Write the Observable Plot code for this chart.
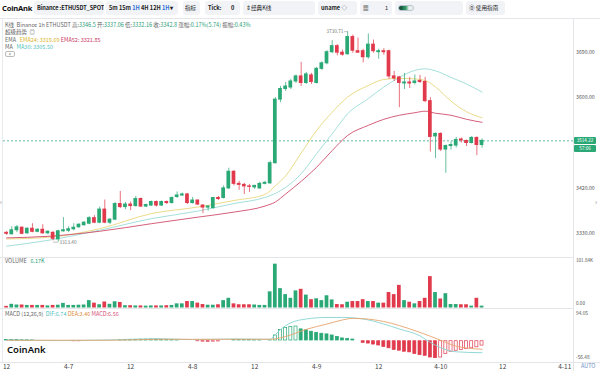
<!DOCTYPE html>
<html><head><meta charset="utf-8">
<script src="https://cdn.jsdelivr.net/npm/d3@7"></script>
<script src="https://cdn.jsdelivr.net/npm/@observablehq/plot@0.6"></script>
<style>
*{box-sizing:border-box}
body{margin:0;width:600px;height:371px;overflow:hidden;background:#fff;position:relative;font-family:"Noto Sans CJK SC","Noto Sans",sans-serif;color:#222}
.abs{position:absolute}
#tb{left:0;top:0;width:600px;height:19px;border-bottom:1px solid #e4e6ea}
.logo{left:2px;top:3px;font-family:"Noto Sans",sans-serif;font-weight:700;font-size:7.6px;letter-spacing:-0.2px;color:#111;line-height:10px}
.box{top:1px;height:14px;background:#f1f3f7;border-radius:3px;font-size:5.6px;line-height:14px;padding:0 3px;white-space:nowrap;color:#222;overflow:hidden}
.blue{color:#2f6fd6}
.lg{left:5px;font-size:5.5px;line-height:6px;color:#666;white-space:nowrap}
.v{color:#2a9d78}
.panel{left:0;width:600px}
.pbox{left:574px;width:22px;height:7px;background:#2aa876;color:#fff;font-size:4.6px;line-height:7px;text-align:center;border-radius:1px}
</style></head><body>
<div id="tb" class="abs">
  <div class="abs logo">CoinAnk</div>
  <div class="abs box" style="left:34px;width:70px;font-weight:600;letter-spacing:-0.1px">Binance :ETHUSDT_SPOT</div>
  <div class="abs box" style="left:106px;width:72px;font-weight:600">5m 15m <span class="blue">1H</span> 4H 12H <span class="blue">1H</span>▾</div>
  <div class="abs box" style="left:183px;width:17px;padding:0 2px">指标</div>
  <div class="abs box" style="left:205px;width:35px;font-weight:600">Tick:<span style="position:absolute;left:26px">0</span></div>
  <div class="abs box" style="left:243px;width:72px">⇕经典K线</div>
  <div class="abs box" style="left:318px;width:39px;font-weight:600">uname <span style="color:#666">◇</span></div>
  <div class="abs box" style="left:360px;width:32px">▦<span style="position:absolute;left:25px">1</span></div>
  <div class="abs box" style="left:395px;width:68px"><span class="abs" style="left:3px;top:4px;width:16px;height:6px;border-radius:3px;border:1px solid #b9c4cc;background:linear-gradient(90deg,#0b3d2e,#3aa06b 50%,#e9f0ee 70%)"></span></div>
  <div class="abs box" style="left:466px;width:39px">⓪ 使用指南</div>
</div>
<div id="p1" class="abs panel" style="top:19px;height:238px"></div>
<div id="p2" class="abs panel" style="top:257px;height:51px"></div>
<div id="p3" class="abs panel" style="top:308px;height:63px"></div>
<div class="abs" style="left:0;top:257px;width:573px;height:1px;background:#e3e5e9"></div>
<div class="abs" style="left:0;top:308px;width:573px;height:1px;background:#e3e5e9"></div>
<div class="abs" style="left:0;top:362px;width:600px;height:1px;background:#e3e5e9"></div>
<div class="abs" style="left:573px;top:19px;width:1px;height:352px;background:#e3e5e9"></div>
<div class="abs" style="left:2px;top:19px;width:1px;height:343px;background:#e8eaee"></div>
<div class="abs" style="left:0;top:197px;font-size:7px;color:#888;line-height:8px">‹</div>
<div class="abs" style="left:595px;top:197px;font-size:7px;color:#888;line-height:8px">›</div>

<div class="abs lg" style="top:22px">K线&nbsp; Binance 1h ETHUSDT 高:<span class="v">3346.5</span> 开:<span class="v">3337.06</span> 低:<span class="v">3332.16</span> 收:<span class="v">3342.8</span> 涨幅:<span class="v">0.17%(5.74)</span> 振幅:<span class="v">0.43%</span></div>
<div class="abs lg" style="top:29.3px">超级趋势 &nbsp;◎</div>
<div class="abs lg" style="top:36.7px">EMA &nbsp; <span style="color:#d9b52a">EMA24: 3319.69</span> <span style="color:#c8385f">EMA52: 3321.85</span></div>
<div class="abs lg" style="top:44px">MA &nbsp; <span style="color:#4fc1c0">MA30: 3305.50</span></div>
<div class="abs" style="left:5px;top:51px;width:10px;height:6px;border:1px solid #bbb;border-radius:2px;font-size:5px;line-height:5px;text-align:center;color:#666">^</div>
<div class="abs lg" style="top:257.5px">VOLUME &nbsp; <span class="v">6.17K</span></div>
<div class="abs lg" style="top:311px">MACD (12,26,9) &nbsp;<span style="color:#4fc1c0">DIF:6.74</span> <span style="color:#e08a3c">DEA:3.46</span> <span style="color:#d8507a">MACD:6.56</span></div>
<div class="abs" style="left:7px;top:343px;font-family:'Noto Sans',sans-serif;font-weight:600;font-size:9.5px;color:#111">CoinAnk</div>
<div class="abs" style="left:581px;top:363px;font-size:5.5px;color:#6f8fc8;line-height:7px">AUTO</div>
<div id="boxes"></div>
<script>
// ---------- data ----------
const startTime = "2024-04-06T12:00:00Z"; // first 1H candle
const open = [3332,3329,3337.06,3342,3331,3340,3334,3338,3331,3332, 3319,3335,3336,3339,3343,3347,3350,3361,3352,3378, 3352,3358,3389,3383,3388,3385,3399,3384,3386,3393, 3386,3393,3391,3403,3406,3408,3391,3396,3386,3382, 3381,3401,3401,3420,3453,3429,3427,3424,3422,3420, 3429,3430,3470,3596,3617,3620,3632,3642,3629,3644, 3629,3657,3668,3690,3702,3689,3686,3720,3692,3692, 3680,3705,3690,3692,3692,3642,3640,3628,3630,3629, 3633,3631,3593,3523,3528,3497,3504,3505,3517,3514, 3510,3520,3506];
const high = [3334,3344,3346.5,3344,3342,3350,3340,3348,3336,3334, 3337,3362,3344,3350,3350,3354,3364,3366,3383,3397, 3360,3392,3414,3392,3393,3404,3401,3389,3395,3395, 3395,3395,3403,3413,3411,3410,3402,3397,3388,3386, 3402,3404,3425,3460,3455,3434,3430,3428,3426,3432, 3434,3474,3600,3622,3630,3636,3645,3670,3650,3648, 3660,3671,3693,3713,3705,3694,3730.71,3724,3718,3696, 3726,3714,3696,3697,3694,3652,3642,3648,3640,3645, 3644,3640,3600,3530,3530,3506,3512,3521,3520,3516, 3523,3522,3518];
const low = [3327,3328,3332.16,3328,3329,3332,3332,3329,3328,3316, 3313.4,3333,3332,3336,3341,3345,3348,3350,3350,3350, 3348,3356,3380,3378,3376,3383,3382,3382,3384,3383, 3384,3388,3389,3400,3404,3388,3389,3386,3370,3375, 3379,3396,3399,3418,3425,3416,3408,3412,3418,3418, 3427,3428,3468,3590,3612,3616,3628,3622,3626,3626, 3627,3654,3665,3687,3683,3682,3684,3688,3688,3669, 3676,3688,3676,3684,3636,3632,3580,3616,3618,3625, 3628,3590,3492,3479,3493,3450,3496,3500,3510,3503, 3508,3485,3500];
const close = [3330,3337,3342.8,3330,3340,3334,3338,3331,3334,3320, 3335,3337,3339,3342,3348,3352,3361,3352,3378,3352, 3358,3389,3383,3388,3385,3399,3384,3387,3393,3386, 3393,3391,3401,3406,3408,3391,3396,3388,3382,3384, 3401,3399,3420,3453,3429,3427,3424,3423,3425,3429, 3431,3470,3596,3617,3622,3632,3642,3629,3646,3631, 3657,3668,3690,3702,3689,3685,3720,3693,3689,3680, 3705,3692,3692,3690,3642,3638,3629,3630,3628,3632, 3631,3593,3522,3528,3497,3504,3506,3516,3515,3510, 3520,3506,3514.22];
const volumeK = [3.5,8,6.5,6.5,5.6,5.6,5.6,5.6,4.5,5.6, 6,10,5.6,5.6,6,6.5,16,10.5,7,13, 8,13.5,12,5,5,4.5,4.5,4,4.5,4.5, 4.5,5,5.5,9,9,14,14,10.5,7.5,6, 6,7,16,21,9,7,7,7,6.5,5.6, 5.6,35,95,42,29,21,37,40.5,28,18, 20,16,26.5,17.5,7.5,7,12.5,14,14,18, 14,14,10.5,10.5,33.5,29,49,16,12.5,9, 14,21,68,33.5,19.5,31,7.5,7.5,7,7, 4,21,4];
// indicator lines read at sampled candle indices: [index, value]
const ema24 = [[0,3319.7],[8,3323],[18,3340],[28,3370],[37,3383],[44,3396],[50,3408],[52,3425],[54,3445],[57,3490],[60,3535],[63,3571],[66,3601],[70,3624],[73,3636],[76,3638],[79,3637],[81,3634],[83,3621],[86,3593],[89,3572],[92,3560]];
const ma30 = [[0,3305.5],[8,3317],[18,3337],[28,3360],[37,3375],[44,3390],[50,3402],[52,3410],[54,3422],[57,3449],[60,3489],[63,3528],[66,3568],[70,3598],[73,3621],[76,3640],[79,3654],[81,3657],[83,3653],[86,3640],[89,3627],[92,3611]];
const ema52 = [[0,3321.9],[8,3325],[18,3335],[28,3350],[37,3363],[44,3373],[50,3385],[52,3393],[54,3409],[57,3434],[60,3462],[63,3495],[66,3525],[70,3545],[73,3557],[76,3565],[79,3570],[81,3573],[83,3569],[86,3565],[89,3557],[92,3551]];
const macdHist = [4,4,3.5,3,3,2.5,2,1.5,1,0.5, -1,-1.5,-2,-2.5,-2.5,-2,-2,-1.5,-1,-0.5, 1,2,3,3.5,4,4.5,5,5,5.5,5,4.5,4,3.5,3,2, -0.5,-1.5,-2.5,-3.5,-4,-3.5,-3,-1,2, 3.5,4,4.2,3.5,3,2.5,2,2.5,
 18.5,36,42.5,46,47,38,35,30.5,27,24,22,18.5,14,9,7.5,5.5,-1,-7.6,-9.8,-13,-16,-20.7,-25,-30.5,-32.7,-36,-38,-43.6,-47,-49,-54.5,-56.5,-54.5,-43.6,-36,-32.7,-30.5,-27,-25,-21.8,-16.4];
const dif = [[0,3],[10,1],[20,3],[29,7],[36,4],[44,6],[51,5],[52,20],[53,36],[55,58],[58,70],[62,75],[65,75],[69,70],[73,54],[76,38],[80,16],[82,-5],[84,-22],[87,-35],[92,-38]];
const dea = [[0,2],[10,2],[20,2],[29,5],[36,5],[44,5],[51,5],[54,14],[58,37],[62,54],[65,67],[67,72],[69,71],[73,62],[76,49],[80,27],[84,2],[87,-17],[92,-27]];
const priceTicks = [3330,3420,3600,3690];
const volumeMax = 101.84;
const volumeTickLabels = ["0.00","101.84K"];
const macdMin = -56.48, macdMax = 94.05;
const xTickLabels = ["12","4-7","12","4-8","12","4-9","12","4-10","12","4-11"];

// ---------- build ----------
const GREEN = "#2aa876", RED = "#e03a4c";
const H = 3600e3, t0 = Date.parse(startTime);
const T = i => new Date(t0 + i * H);
const xDomain = [T(-0.6), T(109.7)];
const xScale = {type:"utc", domain:xDomain, range:[3,573], axis:null, label:null};
const candles = open.map((o,i)=>({t:T(i), o, h:high[i], l:low[i], c:close[i], up:close[i]>=o, v:volumeK[i]}));
const hw = 0.36 * H;
const x1 = d => new Date(+d.t - hw), x2 = d => new Date(+d.t + hw);
const col = d => d.up ? GREEN : RED;
const style = {fontFamily:"'Noto Sans CJK SC','Noto Sans',sans-serif", fontSize:"5.5px", color:"#555", background:"transparent", overflow:"visible"};
const lineOf = (arr, stroke) => Plot.line(arr, {x:d=>T(d[0]), y:d=>d[1], stroke, strokeWidth:0.9, curve:"monotone-x"});
const last = close.length - 1;
const hiIdx = high.indexOf(d3.max(high)), loIdx = low.indexOf(d3.min(low));
const rAxis = (ticks, fmt, dy, fontSize=5) => Plot.axisY({anchor:"right", ticks, tickSize:0, tickPadding:2.5, tickFormat:fmt, fontSize, fill:"#555", dy, label:null});

const pricePlot = Plot.plot({
  width:600, height:238, marginLeft:3, marginRight:27, marginTop:0, marginBottom:0, style,
  x:xScale, y:{domain:[3330,3690], range:[214.3,32.7], label:null}, color:{type:"identity"},
  marks:[
    Plot.ruleY([close[last]], {stroke:"#3aa88a", strokeDasharray:"2,2", strokeWidth:0.8}),
    lineOf(ma30, "#9adbd6"), lineOf(ema24, "#e8d77a"), lineOf(ema52, "#cf4d6c"),
    Plot.ruleX(candles, {x:"t", y1:"l", y2:"h", stroke:col, strokeWidth:0.9, strokeOpacity:0.8}),
    Plot.rect(candles, {x1, x2, y1:d=>Math.min(d.o,d.c), y2:d=>Math.max(d.o,d.c), fill:col, insetTop:-0.5, insetBottom:-0.5}),
    rAxis(priceTicks, d=>d.toFixed(2), 0, 5.2),
    Plot.link([candles[hiIdx]], {x1:d=>d.t, x2:d=>new Date(+d.t - 0.7*H), y1:"h", y2:"h", stroke:"#999", strokeWidth:0.6}),
    Plot.text([candles[hiIdx]], {x:d=>new Date(+d.t - 0.8*H), y:"h", text:d=>d.h.toFixed(2), textAnchor:"end", fontSize:4.8, fill:"#777"}),
    Plot.link([candles[loIdx]], {x1:d=>d.t, x2:d=>new Date(+d.t - 1*H), y1:"l", y2:"l", stroke:"#999", strokeWidth:0.6}),
    Plot.text([candles[loIdx]], {x:d=>d.t, y:"l", dx:1, text:d=>d.l.toFixed(2), textAnchor:"start", fontSize:4.8, fill:"#777"})
  ]
});
document.getElementById("p1").append(pricePlot);

// current price boxes
const yp = pricePlot.scale("y").apply(close[last]) + 19;
document.getElementById("boxes").innerHTML = `<div class="abs pbox" style="top:${yp-3.5}px">${close[last].toFixed(2)}</div><div class="abs pbox" style="top:${yp+4.5}px">57:06</div>`;

const volPlot = Plot.plot({
  width:600, height:51, marginLeft:3, marginRight:27, marginTop:0, marginBottom:0, style,
  x:xScale, y:{domain:[0,volumeMax], range:[50.5,3.5], label:null}, color:{type:"identity"},
  marks:[
    Plot.rect(candles, {x1, x2, y1:0, y2:"v", fill:col}),
    rAxis([0], ()=>volumeTickLabels[0], -4, 4.6),
    rAxis([volumeMax], ()=>volumeTickLabels[1], 0, 4.6)
  ]
});
document.getElementById("p2").append(volPlot);

const hist = macdHist.map((m,i)=>{
  const prev = i>0 ? macdHist[i-1] : m;
  return {t:T(i), m, color: m >= 0 ? GREEN : RED, hollow: m > prev};
});
const macdPlot = Plot.plot({
  width:600, height:63, marginLeft:3, marginRight:27, marginTop:0, marginBottom:9, style,
  x:{...xScale}, y:{domain:[macdMin,macdMax], range:[50,3], label:null}, color:{type:"identity"},
  marks:[
    Plot.rect(hist, {x1, x2, y1:0, y2:"m", fill:d=>d.hollow?"#fff":d.color, stroke:"color", strokeWidth:0.7, inset:0.35}),
    lineOf(dif, "#86d4d2"), lineOf(dea, "#e6a46e"),
    rAxis([macdMax], d=>d.toFixed(2), 1.5, 4.8),
    rAxis([macdMin], d=>d.toFixed(2), -1, 4.8),
    Plot.axisX({anchor:"bottom", ticks:xTickLabels.map((s,i)=>T(i*12)), tickFormat:(d,i)=>xTickLabels[i], tickSize:0, tickPadding:1.5, fontSize:6.5, fill:"#444", label:null})
  ]
});
document.getElementById("p3").append(macdPlot);
</script>
</body></html>
